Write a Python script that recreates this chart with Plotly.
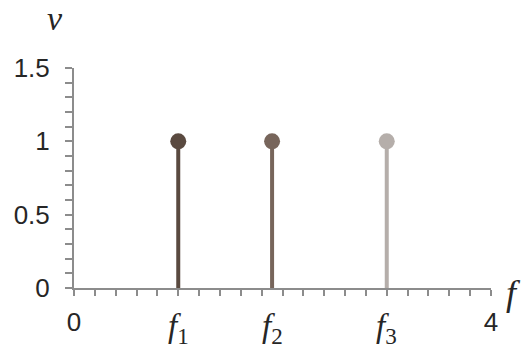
import plotly.graph_objects as go

# Line spectrum: three unit-amplitude components
freqs = [1.0, 1.9, 3.0]
amps = [1.0, 1.0, 1.0]
freq_labels = ["<i>f</i><sub>1</sub>", "<i>f</i><sub>2</sub>", "<i>f</i><sub>3</sub>"]
stem_colors = ["#5a4a40", "#77655b", "#b5aeaa"]

x_tickvals = [0, 4]
x_ticktext = ["0", "4"]
y_tickvals = [0, 0.5, 1, 1.5]
y_ticktext = ["0", "0.5", "1", "1.5"]

axis_gray = "#8c8c8c"
text_color = "#262626"

fig = go.Figure()

for f, a, c in zip(freqs, amps, stem_colors):
    fig.add_trace(go.Scatter(
        x=[f, f], y=[0, a], mode="lines",
        line=dict(color=c, width=4), showlegend=False, hoverinfo="skip",
    ))

fig.add_trace(go.Scatter(
    x=freqs, y=amps, mode="markers",
    marker=dict(color=stem_colors, size=16, line=dict(width=0)),
    showlegend=False, cliponaxis=False,
))

fig.update_xaxes(
    range=[0, 4], showgrid=False, zeroline=False, automargin=False,
    showline=True, linecolor=axis_gray, linewidth=2,
    tickmode="array", tickvals=x_tickvals, ticktext=x_ticktext,
    ticks="outside", ticklen=6, tickcolor=axis_gray, tickwidth=1.5,
    minor=dict(dtick=0.2, tick0=0, ticks="outside", ticklen=6,
               tickcolor=axis_gray, tickwidth=1.5, showgrid=False),
    tickfont=dict(family="Liberation Sans, Arial", size=26, color=text_color),
    ticklabelstandoff=4,
)
fig.update_yaxes(
    range=[0, 1.5], showgrid=False, zeroline=False, automargin=False,
    showline=True, linecolor=axis_gray, linewidth=2,
    tickmode="array", tickvals=y_tickvals, ticktext=y_ticktext,
    ticks="outside", ticklen=7, tickcolor=axis_gray, tickwidth=1.5,
    minor=dict(dtick=0.1, tick0=0, ticks="outside", ticklen=7,
               tickcolor=axis_gray, tickwidth=1.5, showgrid=False),
    tickfont=dict(family="Liberation Sans, Arial", size=26, color=text_color),
    ticklabelstandoff=10,
)

# Frequency symbols under their stems
for f, lab in zip(freqs, freq_labels):
    fig.add_annotation(
        x=f, y=0, xref="x", yref="paper", xanchor="center", yanchor="top",
        yshift=-18, showarrow=False, text=lab,
        font=dict(family="Liberation Serif", size=33, color=text_color),
    )

# Axis symbols
fig.add_annotation(
    x=0, y=1, xref="paper", yref="paper", xanchor="center", yanchor="middle",
    xshift=-19, yshift=50, showarrow=False,
    text="<i>v</i>", font=dict(family="Liberation Serif", size=34, color=text_color),
)
fig.add_annotation(
    x=1, y=0, xref="paper", yref="paper", xanchor="left", yanchor="middle",
    xshift=13, yshift=-5, showarrow=False,
    text="<i>f</i>", font=dict(family="Liberation Serif", size=36, color=text_color),
)

fig.update_layout(
    width=526, height=352,
    margin=dict(l=74, r=35, t=68, b=64),
    paper_bgcolor="white", plot_bgcolor="white",
)

fig.write_html("out.html")
